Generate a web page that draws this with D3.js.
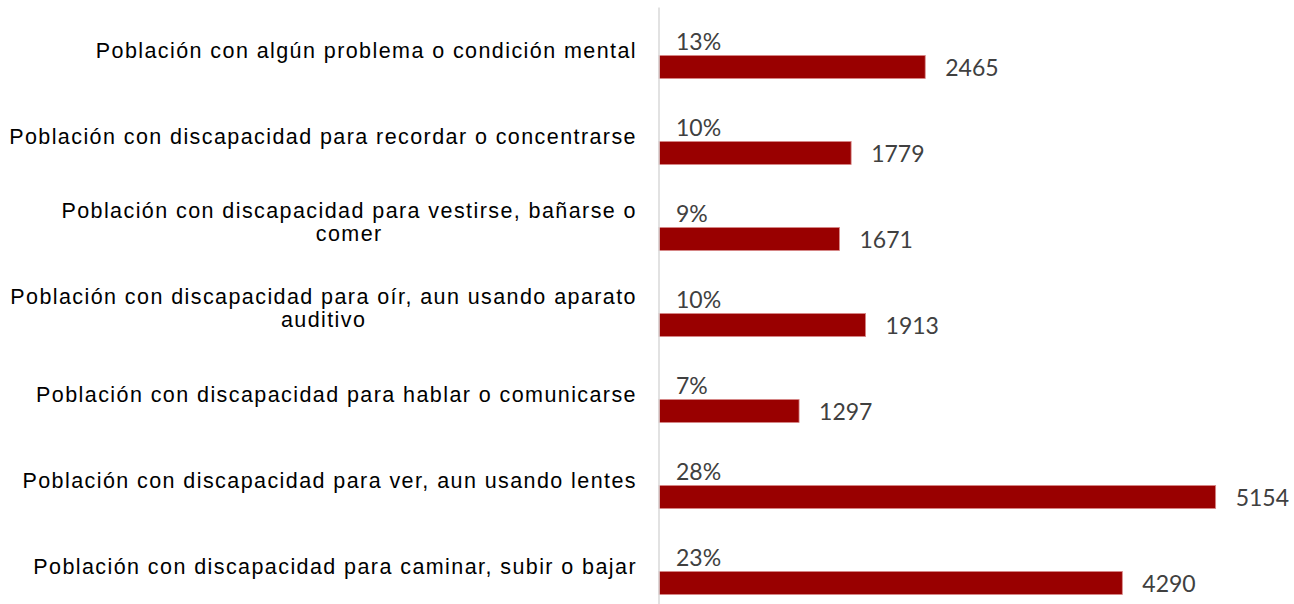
<!DOCTYPE html>
<html>
<head>
<meta charset="utf-8">
<script src="https://cdn.jsdelivr.net/npm/d3@7"></script>
<style>
  body { margin: 0; background: #fff; }
  svg { display: block; }
</style>
</head>
<body>
<div id="chart"></div>
<script>
// categories (line breaks where the original label wraps)
const categories = [
    "Población con algún problema o condición mental",
    "Población con discapacidad para recordar o concentrarse",
    "Población con discapacidad para vestirse, bañarse o\ncomer",
    "Población con discapacidad para oír, aun usando aparato\nauditivo",
    "Población con discapacidad para hablar o comunicarse",
    "Población con discapacidad para ver, aun usando lentes",
    "Población con discapacidad para caminar, subir o bajar"
];
const values = [2465, 1779, 1671, 1913, 1297, 5154, 4290];
const percents = ["13%", "10%", "9%", "10%", "7%", "28%", "23%"];

window.onload = function () {
    const width = 1294;
    const height = 604;
    const axisX = 658.5;

    const svg = d3.select('#chart')
        .append('svg')
        .attr('width', width)
        .attr('height', height);

    // scales
    const x = d3.scaleLinear()
        .domain([0, 5500])
        .range([659, 1253]);

    const y = d3.scaleBand()
        .domain(categories)
        .range([7, 609])
        .padding(0);

    // two slots per category: the percent label sits in the upper one, the bar in the lower one
    const slot = d3.scaleBand()
        .domain(['pct', 'val'])
        .range([9, 77])
        .paddingInner(0.32)
        .paddingOuter(0.16);

    const data = categories.map((c, i) => ({ cat: c, value: values[i], pct: percents[i] }));

    // bars
    svg.selectAll('rect.bar')
        .data(data)
        .enter()
        .append('rect')
        .attr('class', 'bar')
        .attr('x', x(0))
        .attr('y', d => y(d.cat) + slot('val'))
        .attr('width', d => x(d.value) - x(0))
        .attr('height', slot.bandwidth())
        .attr('fill', '#990000')
        .attr('stroke', '#d98a8a')
        .attr('stroke-width', 0.8);

    // vertical axis line
    svg.append('g')
        .attr('transform', `translate(${axisX},0)`)
        .call(d3.axisLeft(y).tickSize(0).tickFormat(''))
        .call(g => g.select('.domain').attr('stroke', '#d9d9d9').attr('stroke-width', 1.5));

    // percent labels above the bars
    svg.selectAll('text.pct')
        .data(data)
        .enter()
        .append('text')
        .attr('class', 'pct')
        .attr('x', x(0) + 17)
        .attr('y', d => y(d.cat) + slot('val') - 5.5)
        .attr('fill', '#404040')
        .style('font-family', 'Lato, "Open Sans", sans-serif')
        .style('font-size', '23px')
        .text(d => d.pct);

    // value labels right of bar end
    svg.selectAll('text.val')
        .data(data)
        .enter()
        .append('text')
        .attr('class', 'val')
        .attr('x', d => x(d.value) + 20)
        .attr('y', d => y(d.cat) + slot('val') + slot.bandwidth() / 2 + 1)
        .attr('dy', '0.35em')
        .attr('fill', '#404040')
        .style('font-family', 'Lato, "Open Sans", sans-serif')
        .style('font-size', '23px')
        .text(d => d.value);

    // category labels: right aligned block, lines centred inside it
    const labelRight = 637;
    const lineH = 23;
    data.forEach(d => {
        const lines = d.cat.split('\n');
        const t = svg.append('text')
            .attr('fill', '#000')
            .attr('text-anchor', 'middle')
            .style('font-family', '"Liberation Sans", Arial, sans-serif')
            .style('font-size', '21.5px')
            .style('letter-spacing', '1.42px');
        const cy = y(d.cat) + y.bandwidth() / 2;
        lines.forEach((ln, k) => {
            t.append('tspan')
                .attr('x', 0)
                .attr('y', cy + (k - (lines.length - 1) / 2) * lineH)
                .attr('dy', '0.35em')
                .text(ln);
        });
        const w = t.node().getBBox().width;
        t.attr('transform', `translate(${labelRight - w / 2},0)`);
    });
};
</script>
</body>
</html>
